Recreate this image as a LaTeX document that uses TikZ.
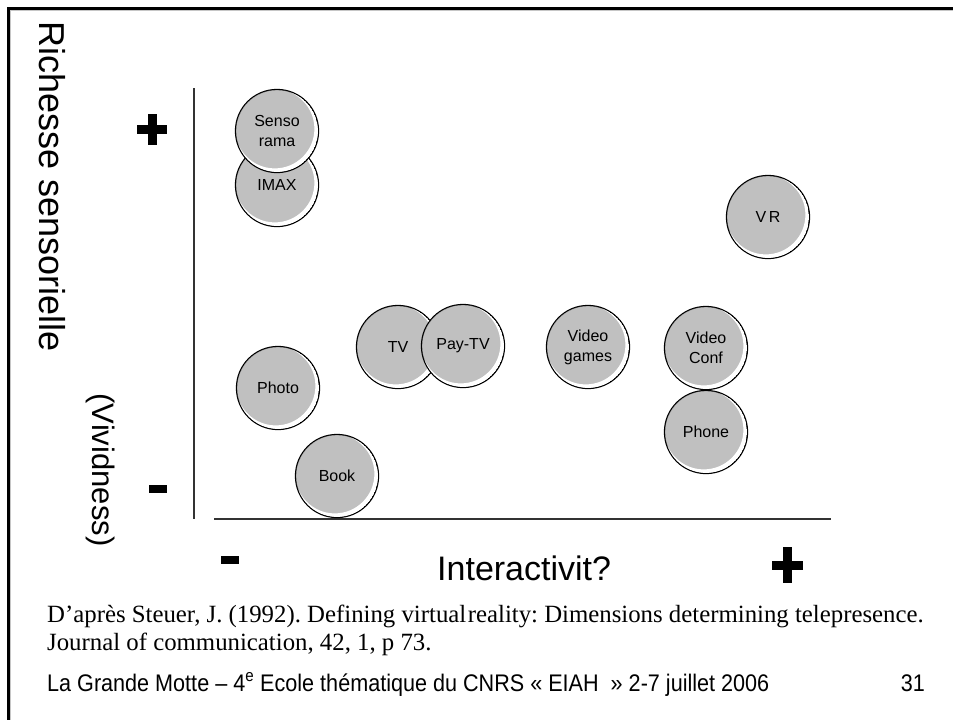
\documentclass[tikz,border=0pt]{standalone}
\usepackage{fontspec}
\setmainfont{Liberation Sans}
\newfontfamily\serifref{Liberation Serif}
\newfontfamily\condfont[FakeStretch=0.9]{Liberation Sans}
\frenchspacing
\definecolor{bubgray}{HTML}{C0C0C0}
\definecolor{axisgray}{HTML}{333333}
\tikzset{
  bubtxt/.style={circle, draw=black, fill=bubgray, line width=1.3pt, minimum size=83pt, inner sep=0pt,
    align=center, font=\fontsize{16}{20}\selectfont},
  axisline/.style={draw=axisgray, line width=2pt},
  sign/.style={fill=black},
}
\newcommand\bubble[4]{%
  \node[bubtxt] (#1) at (#2,#3) {#4};
  \begin{scope}
    \clip (#1.center) circle (40.9pt);
    \fill[white, even odd rule] (#1.center) circle (40.9pt) ([shift={(-2.2,-2.2)}]#1.center) circle (39.6pt);
  \end{scope}
}
\begin{document}
\begin{tikzpicture}[x=1pt,y=-1pt]
\useasboundingbox (0,0) rectangle (953,720);
% frame
\draw[gray!45, line width=1pt] (10.8,720) -- (10.8,10.8) -- (953,10.8);
\draw[black, line width=3pt] (8.5,720) -- (8.5,8.5) -- (953,8.5);
% axis titles
\node[rotate=-90, font=\fontsize{36}{40}\selectfont, inner sep=0pt] (rich) at (52,187) {Richesse sensorielle};
\node[rotate=-90, font=\fontsize{31}{36}\selectfont, inner sep=0pt] (vivid) at (101,470) {(Vividness)};
\node[anchor=base west, font=\fontsize{34}{38}\selectfont, inner sep=0pt] (inter) at (437,580) {Interactivit?};
% axes
\coordinate (ytop) at (194,88);
\coordinate (ybot) at (194,519);
\coordinate (xl) at (214,519);
\coordinate (xr) at (831,519);
\draw[axisline] (ytop) -- (ybot);
\draw[axisline] (xl) -- (xr);
% plus / minus signs
\fill[sign] (137,125) rectangle (167,134);
\fill[sign] (147.5,114) rectangle (156.5,145);
\fill[sign] (149,485) rectangle (167,493);
\fill[sign] (221,556) rectangle (239,564);
\fill[sign] (772,560.5) rectangle (803,569.5);
\fill[sign] (783,547) rectangle (792,583);
% bubbles
\bubble{imax}{277}{185}{IMAX}
\bubble{senso}{277}{131}{Senso\\rama}
\bubble{vr}{768}{217}{V\,R}
\bubble{tv}{398}{347}{TV}
\bubble{paytv}{463}{346}{Pay-TV}
\bubble{games}{588}{347}{Video\\games}
\bubble{conf}{706}{348}{Video\\Conf}
\bubble{photo}{278}{388}{Photo}
\bubble{phone}{706}{432}{Phone}
\bubble{book}{337}{476}{Book}
% reference
\node[anchor=base west, inner sep=0pt, font=\serifref\fontsize{24.8}{28}\selectfont] (ref1) at (47,622)
  {D’après Steuer, J. (1992). Defining virtual\hspace{1.5pt}reality: Dimensions determining telepresence.};
\node[anchor=base west, inner sep=0pt, font=\serifref\fontsize{24.8}{28}\selectfont] (ref2) at (47,650)
  {Journal of communication, 42, 1, p 73.};
% footer
\node[anchor=base west, inner sep=0pt, font=\condfont\fontsize{24}{28}\selectfont] (foot) at (47,691)
  {La Grande Motte – 4\textsuperscript{e} Ecole thématique du CNRS «~EIAH ~»~2-7 juillet 2006};
\node[anchor=base east, inner sep=0pt, font=\condfont\fontsize{24}{28}\selectfont] (page) at (925,691) {31};
\end{tikzpicture}
\end{document}
